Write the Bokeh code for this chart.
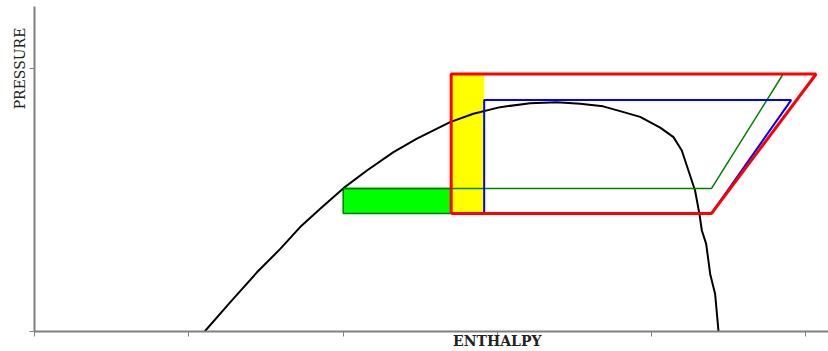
import math
from bokeh.plotting import figure
from bokeh.models import Range1d, FixedTicker
from bokeh.embed import file_html
from bokeh.resources import INLINE

# Saturation dome (enthalpy, pressure) in relative units
dome_h = [1.103, 1.268, 1.442, 1.593, 1.722, 1.852, 2.003, 2.155, 2.327, 2.479,
          2.694, 2.845, 3.019, 3.213, 3.386, 3.537, 3.686, 3.796, 3.926, 4.056,
          4.142, 4.196, 4.239, 4.282, 4.310, 4.326, 4.354, 4.380, 4.412, 4.434]
dome_p = [0.000, 0.111, 0.225, 0.314, 0.397, 0.467, 0.545, 0.612, 0.682, 0.733,
          0.796, 0.828, 0.853, 0.868, 0.872, 0.866, 0.856, 0.838, 0.816, 0.775,
          0.739, 0.688, 0.612, 0.536, 0.448, 0.384, 0.333, 0.219, 0.143, 0.000]

# Cycle (red)
red_h = [2.701, 2.701, 5.067, 4.389, 2.701]
red_p = [0.449, 0.979, 0.979, 0.449, 0.449]
# Cycle (blue)
blue_h = [2.915, 2.915, 4.905, 4.389, 2.915]
blue_p = [0.449, 0.880, 0.880, 0.449, 0.449]
# Cycle (green) line
green_h = [2.001, 4.389, 4.853]
green_p = [0.544, 0.544, 0.979]
# Green filled block
gbox_h = [2.001, 2.701]
gbox_p = [0.449, 0.544]
# Yellow filled block
ybox_h = [2.701, 2.915]
ybox_p = [0.449, 0.979]

x_ticks = [0, 1, 2, 3, 4, 5]
y_ticks = [0, 1]
x_title_tick = 3
y_title_tick = 1
x_title = "ENTHALPY"
y_title = "PRESSURE"

p = figure(width=828, height=351, output_backend="svg", toolbar_location=None,
           x_range=Range1d(0, 5.147), y_range=Range1d(0, 1.2357),
           min_border_left=34, min_border_right=0, min_border_top=6,
           min_border_bottom=20)
p.outline_line_color = None
p.background_fill_color = "white"
p.border_fill_color = "white"
p.grid.visible = False

p.xaxis.ticker = FixedTicker(ticks=[x_title_tick],
                             minor_ticks=[t for t in x_ticks if t != x_title_tick])
p.yaxis.ticker = FixedTicker(ticks=[y_title_tick],
                             minor_ticks=[t for t in y_ticks if t != y_title_tick])
p.xaxis.major_label_overrides = {x_title_tick: x_title}
p.yaxis.major_label_overrides = {y_title_tick: y_title}

for ax in (p.xaxis, p.yaxis):
    ax.axis_line_color = "#808080"
    ax.axis_line_width = 2
    ax.major_tick_line_color = "#808080"
    ax.major_tick_line_width = 1
    ax.major_tick_out = 5
    ax.major_tick_in = 0
    ax.minor_tick_line_color = "#808080"
    ax.minor_tick_line_width = 1
    ax.minor_tick_out = 5
    ax.minor_tick_in = 0
    ax.major_label_text_font = "DejaVu Serif"
    ax.major_label_text_color = "#222222"

p.xaxis.major_label_standoff = -4
p.xaxis.major_label_text_font_size = "14px"
p.xaxis.major_label_text_font_style = "bold"
p.yaxis.major_label_standoff = 1
p.yaxis.major_label_text_font_size = "14px"
p.yaxis.major_label_orientation = "vertical"

p.quad(left=[ybox_h[0]], right=[ybox_h[1]], bottom=[ybox_p[0]], top=[ybox_p[1]],
       fill_color="#ffff00", line_color=None)
p.quad(left=[gbox_h[0]], right=[gbox_h[1]], bottom=[gbox_p[0]], top=[gbox_p[1]],
       fill_color="#00ff00", line_color="#008000", line_width=1.5)
p.line(dome_h, dome_p, line_color="black", line_width=2)
p.line(green_h, green_p, line_color="#008000", line_width=1.5)
p.line(blue_h, blue_p, line_color="#0000ff", line_width=2)
p.line(red_h, red_p, line_color="#ff0000", line_width=3)

open("out.html", "w").write(file_html(p, INLINE))
